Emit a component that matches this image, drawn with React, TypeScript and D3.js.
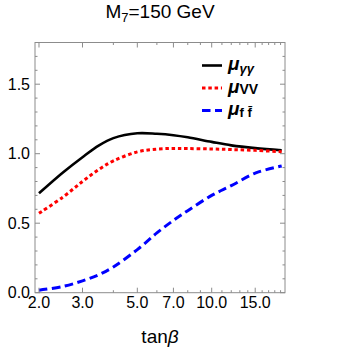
import React from "react";
import * as d3 from "d3";

// tan(beta) sample points and the three signal strengths
const tanBeta = [2, 2.5, 3, 3.5, 4, 5, 6, 7, 8, 10, 12, 15, 19.2];
const muGammaGamma = [0.715, 0.865, 0.975, 1.06, 1.112, 1.147, 1.143, 1.133, 1.118, 1.085, 1.06, 1.04, 1.025];
const muVV = [0.571, 0.688, 0.8, 0.888, 0.948, 1.013, 1.033, 1.038, 1.037, 1.034, 1.03, 1.024, 1.014];
const muFF = [0.018, 0.045, 0.085, 0.13, 0.185, 0.31, 0.43, 0.52, 0.59, 0.7, 0.77, 0.86, 0.912];

const xMajor = [2, 3, 5, 7, 10, 15];
const xMinor = [4, 6, 8, 9, 11, 12, 13, 14, 16, 17, 18, 19];
const yMajor = [0, 0.5, 1.0, 1.5];
const yMinor = d3.range(0, 1.81, 0.1).filter(v => !yMajor.some(m => Math.abs(m - v) < 1e-6));

const width = 354, height = 353;
const left = 35, right = 285, top = 42.5, bottom = 292.7;
const font = "'Liberation Sans', Arial, sans-serif";
const frameColor = "#8c8c8c";

const App = () => {
  const x = d3.scaleLog().domain([1.927, 19.8]).range([left, right]);
  const y = d3.scaleLinear().domain([0, 1.8]).range([bottom, top]);

  const line = d3.line<number>()
    .x((_, i) => x(tanBeta[i]))
    .y(d => y(d))
    .curve(d3.curveCatmullRom.alpha(0.5));

  const series = [
    { values: muGammaGamma, color: "#000", dash: "none", w: 2.6 },
    { values: muVV, color: "#ff0000", dash: "3.5,2.8", w: 3 },
    { values: muFF, color: "#0000ff", dash: "8.5,4.5", w: 3 },
  ];

  const legendY = [65.5, 88, 110.5];

  return (
    <svg width={width} height={height} style={{ position: "absolute", left: 0, top: 0, background: "#fff" }}>
      {/* title */}
      <text x={160} y={18} textAnchor="middle" fontFamily={font} fontSize={19} fill="#000">M<tspan fontSize={13} dy={4}>7</tspan><tspan dy={-4}>=150 GeV</tspan></text>

      {/* curves */}
      {series.map((s, i) => (
        <path key={i} d={line(s.values) || ""} fill="none" stroke={s.color}
          strokeWidth={s.w} strokeDasharray={s.dash} />
      ))}

      {/* frame */}
      <rect x={left} y={top} width={right - left} height={bottom - top} fill="none" stroke={frameColor} strokeWidth={1} />

      {/* x ticks, bottom and top, pointing inward */}
      {xMajor.map(t => (
        <g key={"xM" + t} stroke={frameColor}>
          <line x1={x(t)} x2={x(t)} y1={bottom} y2={bottom - 5} />
          <line x1={x(t)} x2={x(t)} y1={top} y2={top + 5} />
        </g>
      ))}
      {xMinor.map(t => (
        <g key={"xm" + t} stroke={frameColor}>
          <line x1={x(t)} x2={x(t)} y1={bottom} y2={bottom - 2.5} />
          <line x1={x(t)} x2={x(t)} y1={top} y2={top + 2.5} />
        </g>
      ))}
      {xMajor.map(t => (
        <text key={"xl" + t} x={x(t)} y={308} textAnchor="middle" fontFamily={font} fontSize={16} fill="#000">
          {t.toFixed(1)}
        </text>
      ))}

      {/* y ticks, left and right */}
      {yMajor.map(v => (
        <g key={"yM" + v} stroke={frameColor}>
          <line x1={left} x2={left + 5} y1={y(v)} y2={y(v)} />
          <line x1={right} x2={right - 5} y1={y(v)} y2={y(v)} />
        </g>
      ))}
      {yMinor.map(v => (
        <g key={"ym" + v.toFixed(1)} stroke={frameColor}>
          <line x1={left} x2={left + 2.5} y1={y(v)} y2={y(v)} />
          <line x1={right} x2={right - 2.5} y1={y(v)} y2={y(v)} />
        </g>
      ))}
      {yMajor.map(v => (
        <text key={"yl" + v} x={30} y={y(v)} dy="0.36em" textAnchor="end" fontFamily={font} fontSize={16} fill="#000">
          {v.toFixed(1)}
        </text>
      ))}

      {/* x axis label */}
      <text x={160} y={343} textAnchor="middle" fontFamily={font} fontSize={19} fill="#000">tan<tspan fontStyle="italic">β</tspan></text>

      {/* legend */}
      {series.map((s, i) => (
        <line key={"lg" + i} x1={202} x2={222} y1={legendY[i]} y2={legendY[i]}
          stroke={s.color} strokeWidth={s.w} strokeDasharray={s.dash} />
      ))}
      <text x={228} y={legendY[0] + 4.5} fontFamily={font} fontSize={19} fontWeight="bold" fill="#000"><tspan fontStyle="italic">μ</tspan><tspan fontStyle="italic" fontSize={13} dy={3}>γγ</tspan></text>
      <text x={228} y={legendY[1] + 4.5} fontFamily={font} fontSize={19} fontWeight="bold" fill="#000"><tspan fontStyle="italic">μ</tspan><tspan fontSize={14} dy={1}>VV</tspan></text>
      <text x={228} y={legendY[2] + 4.5} fontFamily={font} fontSize={19} fontWeight="bold" fill="#000"><tspan fontStyle="italic">μ</tspan><tspan fontSize={13} dy={2}>{"f f\u0304"}</tspan></text>
    </svg>
  );
};

export default App;
